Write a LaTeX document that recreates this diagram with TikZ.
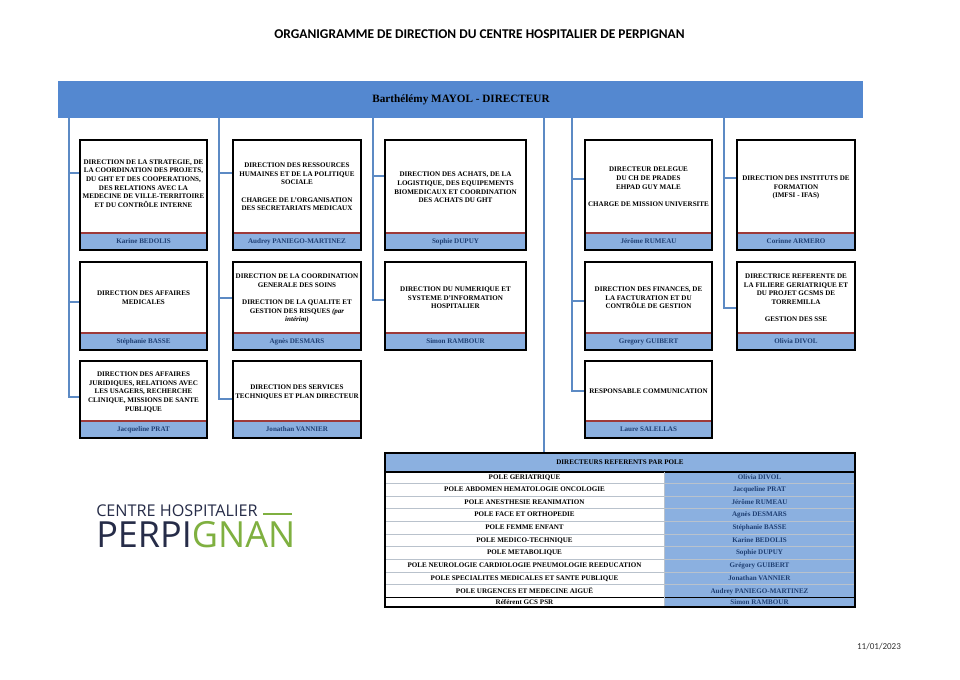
\documentclass[tikz,border=0pt]{standalone}
\usepackage{fontspec}
\setmainfont{Liberation Serif}
\newfontfamily\titlefont{Carlito}
\newfontfamily\logofont{Open Sans}
\definecolor{barblue}{HTML}{5488D0}
\definecolor{lineblue}{HTML}{5C8AC4}
\definecolor{nameblue}{HTML}{8BB0E0}
\definecolor{namefg}{HTML}{1F3F73}
\definecolor{sepred}{HTML}{9E3A3A}
\definecolor{rowline}{HTML}{B9C2CC}
\definecolor{logonavy}{HTML}{262C48}
\definecolor{logogreen}{HTML}{7FB040}
\newcommand{\bt}{\fontsize{5.3}{6.5}\selectfont\bfseries}
\tikzset{
  x=0.75pt,y=-0.75pt,
  boxframe/.style={draw=black,line width=1.1pt,fill=none},
  bodytext/.style={align=center,inner sep=0pt,font=\bt,text=black},
  persontext/.style={inner sep=0pt,font=\bt,text=namefg,text height=3.6pt,text depth=0.6pt},
  cellL/.style={inner sep=0pt,font=\bt,text=black,text height=3.6pt,text depth=0.6pt},
  cellR/.style={inner sep=0pt,font=\bt,text=namefg,text height=3.6pt,text depth=0.6pt},
  trunk/.style={draw=lineblue,line width=2.2pt,line cap=butt,line join=miter},
  rowrule/.style={draw=rowline,line width=0.6pt},
  heavy/.style={draw=black,line width=1.1pt}
}
% name, x0, y0, x1, ysep, y1, ytext, body, person
\newcommand{\dirbox}[9]{%
  \fill[nameblue] (#2,#5) rectangle (#4,#6);
  \draw[sepred,line width=0.9pt] (#2,#5) -- (#4,#5);
  \node[inner sep=0pt,minimum width=0.75pt*(#4-#2),minimum height=0.75pt*(#6-#3),boxframe] (#1) at ({(#2+#4)/2},{(#3+#6)/2}) {};
  \node[bodytext] (#1t) at ({(#2+#4)/2},#7) {#8};
  \node[persontext] (#1p) at ({(#2+#4)/2},{(#5+#6)/2}) {#9};
}
% name, y, left text, right text
\newcommand{\polerow}[4]{%
  \node[cellL] (#1l) at (524.5,#2) {#3};
  \node[cellR] (#1r) at (759.5,#2) {#4};
}
\begin{document}
\begin{tikzpicture}
\useasboundingbox (0,0) rectangle (960,679);
\fill[white] (0,0) rectangle (960,679);

\node[font=\titlefont\fontsize{10.05}{12}\selectfont\bfseries,inner sep=0pt] (title) at (479.5,34) {ORGANIGRAMME DE DIRECTION DU CENTRE HOSPITALIER DE PERPIGNAN};

% director bar
\node[fill=barblue,inner sep=0pt,minimum width=603.75pt,minimum height=27.75pt] (bar) at (460.5,99.5) {};
\node[inner sep=0pt,font=\fontsize{8.4}{10}\selectfont\bfseries,text=black] (bartxt) at (461,99.5) {Barthélémy MAYOL - DIRECTEUR};

% trunk coordinates
\coordinate (t1) at (69,118);
\coordinate (t2) at (219,118);
\coordinate (t3) at (373,118);
\coordinate (t4) at (544,118);
\coordinate (t5) at (572,118);
\coordinate (t6) at (724,118);

% boxes
\dirbox{a1}{80}{140}{207}{233}{250}{183.5}{DIRECTION DE LA STRATEGIE, DE\\LA COORDINATION DES PROJETS,\\DU GHT ET DES COOPERATIONS,\\DES RELATIONS AVEC LA\\MEDECINE DE VILLE-TERRITOIRE\\ET DU CONTRÔLE INTERNE}{Karine BEDOLIS}
\dirbox{a2}{80}{262}{207}{333}{350}{298}{DIRECTION DES AFFAIRES\\MEDICALES}{Stéphanie BASSE}
\dirbox{a3}{80}{361}{207}{421}{438}{392}{DIRECTION DES AFFAIRES\\JURIDIQUES,  RELATIONS AVEC\\LES USAGERS, RECHERCHE\\CLINIQUE, MISSIONS DE SANTE\\PUBLIQUE}{Jacqueline PRAT}

\dirbox{b1}{233}{140}{361}{233}{250}{187}{DIRECTION DES RESSOURCES\\HUMAINES  ET DE LA POLITIQUE\\SOCIALE\\[6.5pt]CHARGEE DE L'ORGANISATION\\DES SECRETARIATS MEDICAUX}{Audrey PANIEGO-MARTINEZ}
\dirbox{b2}{233}{262}{361}{333}{350}{298.5}{DIRECTION DE LA COORDINATION\\GENERALE DES SOINS\\[6.5pt]DIRECTION DE LA QUALITE ET\\GESTION DES RISQUES {\itshape (par}\\{\itshape intérim)}}{Agnès DESMARS}
\dirbox{b3}{233}{361}{361}{421}{438}{392}{DIRECTION DES SERVICES\\TECHNIQUES ET PLAN DIRECTEUR}{Jonathan VANNIER}

\dirbox{c1}{385}{140}{526}{233}{250}{187.5}{DIRECTION DES ACHATS, DE LA\\LOGISTIQUE, DES EQUIPEMENTS\\BIOMEDICAUX ET COORDINATION\\DES ACHATS DU GHT}{Sophie DUPUY}
\dirbox{c2}{385}{262}{526}{333}{350}{298}{DIRECTION DU NUMERIQUE ET\\SYSTEME D'INFORMATION\\HOSPITALIER}{Simon RAMBOUR}

\dirbox{d1}{585}{140}{712}{233}{250}{187}{DIRECTEUR DELEGUE\\DU CH DE PRADES\\EHPAD GUY MALE\\[6.5pt]CHARGE DE MISSION UNIVERSITE}{Jérôme RUMEAU}
\dirbox{d2}{585}{262}{712}{333}{350}{298}{DIRECTION DES FINANCES,  DE\\LA FACTURATION ET DU\\CONTRÔLE DE GESTION}{Gregory GUIBERT}
\dirbox{d3}{585}{361}{712}{421}{438}{391}{RESPONSABLE COMMUNICATION}{Laure SALELLAS}

\dirbox{e1}{737}{140}{855}{233}{250}{187.5}{DIRECTION DES INSTITUTS DE\\FORMATION\\(IMFSI - IFAS)}{Corinne ARMERO}
\dirbox{e2}{737}{262}{855}{333}{350}{298}{DIRECTRICE REFERENTE DE\\LA FILIERE GERIATRIQUE ET\\DU PROJET GCSMS DE\\TORREMILLA\\[6.5pt]GESTION DES SSE}{Olivia DIVOL}

% connectors
\coordinate (j1a) at (69,173);  \coordinate (j1b) at (69,302);  \coordinate (j1c) at (69,397);
\coordinate (j2a) at (219,173); \coordinate (j2b) at (219,298); \coordinate (j2c) at (219,399);
\coordinate (j3a) at (373,176); \coordinate (j3b) at (373,300);
\coordinate (j5a) at (572,179); \coordinate (j5b) at (572,301); \coordinate (j5c) at (572,391);
\coordinate (j6a) at (724,178); \coordinate (j6b) at (724,308);

\draw[trunk] (t1) |- (a3.west|-j1c);
\draw[trunk] (j1a) -- (a1.west|-j1a);
\draw[trunk] (j1b) -- (a2.west|-j1b);
\draw[trunk] (t2) |- (b3.west|-j2c);
\draw[trunk] (j2a) -- (b1.west|-j2a);
\draw[trunk] (j2b) -- (b2.west|-j2b);
\draw[trunk] (t3) |- (c2.west|-j3b);
\draw[trunk] (j3a) -- (c1.west|-j3a);
\draw[trunk] (t5) |- (d3.west|-j5c);
\draw[trunk] (j5a) -- (d1.west|-j5a);
\draw[trunk] (j5b) -- (d2.west|-j5b);
\draw[trunk] (t6) |- (e2.west|-j6b);
\draw[trunk] (j6a) -- (e1.west|-j6a);

% table
\node[inner sep=0pt,minimum width=352.5pt,minimum height=14.25pt,fill=nameblue] (thead) at (620,462.5) {};
\node[inner sep=0pt,font=\bt,text=black] (theadt) at (620,462.5) {DIRECTEURS REFERENTS PAR POLE};
\fill[nameblue] (664,472) rectangle (855,607);
\draw[trunk] (t4) -- (thead.north-|t4);
\foreach \yy in {483.5,496,508.7,521.3,534.3,546.7,559.3,572.3,584.7}
  \draw[rowrule] (385,\yy) -- (855,\yy);
\draw[heavy] (385,597.3) -- (855,597.3);
\draw[heavy] (385,472) -- (855,472);
\draw[draw=rowline,line width=0.6pt] (664,472) -- (664,607);
\draw[heavy] (385,453) rectangle (855,607);
\polerow{p1}{477}{POLE GERIATRIQUE}{Olivia DIVOL}
\polerow{p2}{489.5}{POLE ABDOMEN HEMATOLOGIE ONCOLOGIE}{Jacqueline PRAT}
\polerow{p3}{502}{POLE ANESTHESIE REANIMATION}{Jérôme RUMEAU}
\polerow{p4}{514.5}{POLE FACE ET ORTHOPEDIE}{Agnès DESMARS}
\polerow{p5}{527.3}{POLE FEMME ENFANT}{Stéphanie BASSE}
\polerow{p6}{540}{POLE MEDICO-TECHNIQUE}{Karine BEDOLIS}
\polerow{p7}{552.5}{POLE METABOLIQUE}{Sophie DUPUY}
\polerow{p8}{565.5}{POLE NEUROLOGIE CARDIOLOGIE PNEUMOLOGIE REEDUCATION}{Grégory GUIBERT}
\polerow{p9}{578}{POLE SPECIALITES MEDICALES ET SANTE PUBLIQUE}{Jonathan VANNIER}
\polerow{p10}{591}{POLE URGENCES ET MEDECINE AIGUË}{Audrey PANIEGO-MARTINEZ}
\polerow{p11}{602.3}{Référent GCS PSR}{Simon RAMBOUR}

% logo
\node[anchor=west,inner sep=0pt,text=logonavy,font=\logofont\fontsize{12.15}{14}\selectfont] (lg1) at (96,511) {CENTRE HOSPITALIER};
\coordinate (lgr) at (292,514);
\draw[logogreen,line width=0.9pt] (263,514) -- (lgr);
\node[anchor=west,inner sep=0pt,font=\logofont\fontsize{27}{32}\selectfont] (lg2) at (96,535) {\textcolor{logonavy}{PERPI}\textcolor{logogreen}{GNAN}};

\node[inner sep=0pt,font=\titlefont\fontsize{6.8}{8}\selectfont,text=black!80] (date) at (879,647) {11/01/2023};
\end{tikzpicture}
\end{document}
